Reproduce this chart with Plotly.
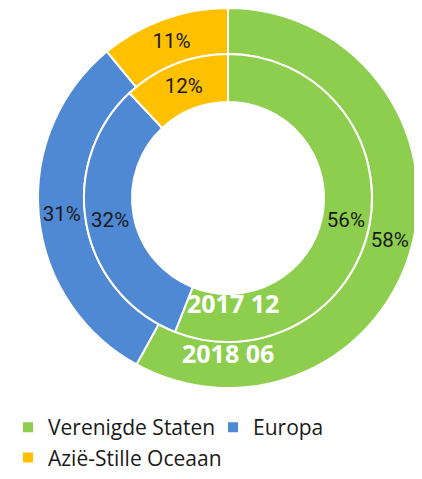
import plotly.graph_objects as go

# regions and shares (percent)
regions = ["Verenigde Staten", "Europa", "Azië-Stille Oceaan"]
colors = ["#8ece4e", "#5089d3", "#ffc000"]
share_2018_06 = [58, 31, 11]  # outer ring
share_2017_12 = [56, 32, 12]  # inner ring

# page body adds an 8px margin, so the figure is a bit smaller than the window
W, H = 414, 471
CX, CY = 220, 190          # centre of the rings (px from top-left of figure)
R_OUT, R_MID, R_IN = 190, 144, 96

fig = go.Figure()

# outer ring - 2018 06
fig.add_trace(go.Pie(
    labels=regions,
    values=share_2018_06,
    name="2018 06",
    sort=False,
    direction="clockwise",
    rotation=0,
    hole=R_MID / R_OUT,
    domain=dict(x=[(CX - R_OUT) / W, (CX + R_OUT) / W],
                y=[1 - (CY + R_OUT) / H, 1 - (CY - R_OUT) / H]),
    marker=dict(colors=colors, line=dict(color="white", width=2)),
    texttemplate="%{value}%",
    textposition="inside",
    insidetextorientation="horizontal",
    textfont=dict(family="Roboto", size=20.5, color="#1a1a1a"),
    hoverinfo="label+percent+name",
))

# inner ring - 2017 12
fig.add_trace(go.Pie(
    labels=regions,
    values=share_2017_12,
    name="2017 12",
    sort=False,
    direction="clockwise",
    rotation=0,
    hole=R_IN / R_MID,
    domain=dict(x=[(CX - R_MID) / W, (CX + R_MID) / W],
                y=[1 - (CY + R_MID) / H, 1 - (CY - R_MID) / H]),
    marker=dict(colors=colors, line=dict(color="white", width=2)),
    texttemplate="%{value}%",
    textposition="inside",
    insidetextorientation="horizontal",
    textfont=dict(family="Roboto", size=20.5, color="#1a1a1a"),
    showlegend=False,
    hoverinfo="label+percent+name",
))

# series names on the green slices
fig.add_annotation(x=225 / W, y=1 - 295 / H, xref="paper", yref="paper",
                   xanchor="center", yanchor="middle",
                   text="<b>2017 12</b>", showarrow=False,
                   font=dict(family="Open Sans", size=25, color="white"))
fig.add_annotation(x=220 / W, y=1 - 345 / H, xref="paper", yref="paper",
                   xanchor="center", yanchor="middle",
                   text="<b>2018 06</b>", showarrow=False,
                   font=dict(family="Open Sans", size=25, color="white"))

fig.update_layout(
    width=W,
    height=H,
    margin=dict(l=0, r=0, t=0, b=0, autoexpand=False),
    paper_bgcolor="white",
    plot_bgcolor="white",
    legend=dict(
        orientation="h",
        x=0,
        xanchor="left",
        y=1 - 399 / H,
        yanchor="top",
        font=dict(family="Open Sans", size=21, color="#1a1a1a"),
        entrywidth=160,
        entrywidthmode="pixels",
        traceorder="normal",
    ),
)

fig.write_html("out.html")
